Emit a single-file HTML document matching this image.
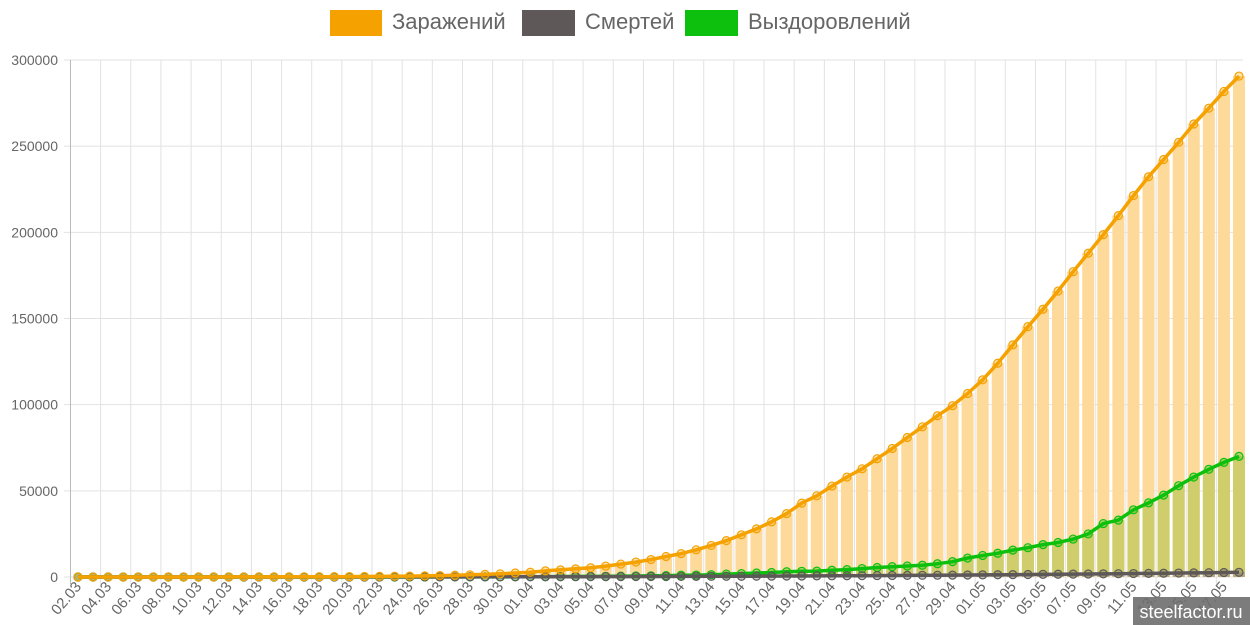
<!DOCTYPE html>
<html><head><meta charset="utf-8"><style>
html,body{margin:0;padding:0;background:#fff;width:1250px;height:625px;overflow:hidden}
svg{display:block;font-family:"Liberation Sans",sans-serif}
</style></head><body>
<svg id="c" width="1250" height="625" xmlns="http://www.w3.org/2000/svg"></svg>
<script>
const inf=[3,3,3,4,10,14,17,17,20,28,34,45,59,63,93,114,147,199,253,306,367,438,495,658,840,1036,1264,1534,1836,2337,
2777,3548,4149,4731,5389,6343,7497,8672,10131,11917,13584,15770,18328,21102,24490,27938,32008,36793,42853,47121,52763,57999,62773,68622,74588,80949,87147,93558,99399,106498,
114431,124054,134687,145268,155370,165929,177160,187859,198676,209688,221344,232243,242271,252245,262843,272043,281752,290678];
const rec=[0,0,0,0,0,0,0,0,0,0,0,0,0,0,0,2,5,8,9,12,16,17,22,29,38,45,64,66,79,121,
190,235,281,333,355,406,494,580,698,795,1045,1124,1355,1694,1986,2304,2590,3057,3300,3400,3900,4300,4900,5500,6000,6400,6800,7700,8900,11000,
12500,13800,15600,17000,18800,20000,22000,25000,31000,33000,39000,43000,47500,53000,58000,62500,66500,70000];
const N=inf.length;const dth=inf.map((v,i)=>Math.round(Math.pow(i/(N-1),3.2)*2720));
const x0=78,dx=(1239-78)/77,yb=577,k=517/300000;
const X=i=>x0+i*dx,Y=v=>yb-v*k;
let s='';
for(let j=0;j<=6;j++){const y=yb-j*50000*k;s+=`<line x1="64" x2="1243" y1="${y}" y2="${y}" stroke="#e2e2e2"/>`;
s+=`<text x="58" y="${y+5}" text-anchor="end" font-size="14" fill="#666">${j*50000}</text>`;}
for(let i=0;i<N;i+=2){const x=X(i)-dx/2;s+=`<line x1="${x}" x2="${x}" y1="60" y2="584" stroke="#e2e2e2"/>`;}
s+=`<line x1="70.5" x2="70.5" y1="60" y2="584" stroke="#bbb"/>`;
const bw=12;
for(let i=0;i<N;i++){const x=X(i)-bw/2;
s+=`<rect x="${x}" y="${Y(inf[i])}" width="${bw}" height="${inf[i]*k}" fill="#fdd99a"/>`;
s+=`<rect x="${x}" y="${Y(rec[i])}" width="${bw}" height="${rec[i]*k}" fill="#cfcd6c"/>`;
s+=`<rect x="${x}" y="${Y(dth[i])}" width="${bw}" height="${dth[i]*k}" fill="#b9ac80"/>`;}
function line(d,c){let p=d.map((v,i)=>X(i).toFixed(1)+','+Y(v).toFixed(1)).join(' ');
let r=`<polyline points="${p}" fill="none" stroke="${c}" stroke-width="3.5" stroke-linejoin="round"/>`;
d.forEach((v,i)=>{r+=`<circle cx="${X(i)}" cy="${Y(v)}" r="4" fill="${c}" fill-opacity="0.3" stroke="${c}" stroke-width="1.2"/>`});return r;}
s+=line(rec,'#0ec00e');s+=line(dth,'#5e5858');s+=line(inf,'#f5a200');
const mon=i=>i<30?[i+2,'03']:i<60?[i-29,'04']:[i-59,'05'];
for(let i=0;i<N;i+=2){const [d,m]=mon(i);const t=String(d).padStart(2,'0')+'.'+m;const x=X(i)+4;
s+=`<text x="${x}" y="587" text-anchor="end" font-size="15" fill="#666" transform="rotate(-50 ${x} 587)">${t}</text>`;}
s+=`<rect x="330" y="10" width="52" height="26" fill="#f5a200"/><text x="392" y="29" font-size="22" fill="#666">Заражений</text>`;
s+=`<rect x="522" y="10" width="53" height="26" fill="#5e5858"/><text x="585" y="29" font-size="22" fill="#666">Смертей</text>`;
s+=`<rect x="685" y="10" width="53" height="26" fill="#0ec00e"/><text x="748" y="29" font-size="22" fill="#666">Выздоровлений</text>`;
s+=`<rect x="1133" y="597" width="117" height="28" fill="#6e6e6e" fill-opacity="0.9"/><text x="1191" y="618" text-anchor="middle" font-size="18" fill="#fff">steelfactor.ru</text>`;
document.getElementById('c').innerHTML=s;
</script>
</body></html>
